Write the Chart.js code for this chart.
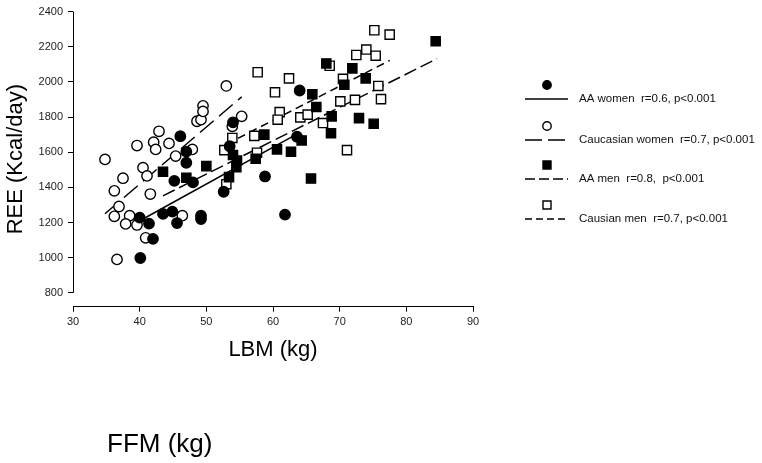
<!DOCTYPE html>
<html>
<head>
<meta charset="utf-8">
<script src="https://cdn.jsdelivr.net/npm/chart.js@4"></script>
<style>
  html, body { margin: 0; padding: 0; background: #fff; }
</style>
</head>
<body>
<canvas id="report" width="762" height="463"></canvas>
<script>
// tick labels
const xTicks = [30, 40, 50, 60, 70, 80, 90];
const yTicks = [800, 1000, 1200, 1400, 1600, 1800, 2000, 2200, 2400];

// AA women (filled circles)
const aaWomenLbm = [46.1, 47.0, 47.0, 45.2, 48.0, 40.0, 43.5, 44.9, 41.4, 45.6, 49.2, 49.2, 42.0, 40.1, 52.6, 53.5, 54.0, 58.8, 61.8, 63.6, 64.0];
const aaWomenRee = [1691, 1603, 1540, 1437, 1428, 1228, 1249, 1262, 1194, 1197, 1239, 1220, 1107, 998, 1375, 1634, 1770, 1462, 1245, 1688, 1951];

// Caucasian women (open circles)
const cauWomenLbm = [34.8, 37.5, 36.2, 40.5, 41.1, 41.6, 36.9, 36.2, 38.5, 37.9, 39.6, 40.9, 36.6, 39.6, 42.1, 42.4, 42.9, 44.4, 45.4, 47.9, 48.6, 49.2, 46.4, 53.0, 49.5, 49.5, 55.3, 53.9];
const cauWomenRee = [1559, 1452, 1380, 1512, 1465, 1362, 1291, 1235, 1239, 1192, 1186, 1113, 990, 1638, 1657, 1616, 1719, 1650, 1578, 1616, 1776, 1785, 1239, 1977, 1864, 1832, 1804, 1747];

// AA men (filled squares)
const aaMenLbm = [43.5, 47.0, 50.0, 54.0, 54.6, 54.5, 53.4, 57.4, 58.7, 60.6, 62.7, 64.3, 65.7, 65.9, 66.5, 68.8, 68.7, 68.0, 71.9, 73.9, 70.7, 72.9, 75.1, 84.4];
const aaMenRee = [1489, 1455, 1521, 1584, 1552, 1514, 1458, 1563, 1700, 1616, 1603, 1667, 1450, 1930, 1857, 1804, 1708, 2105, 2077, 2020, 1984, 1794, 1762, 2231];

// Caucasian men (open squares)
const cauMenLbm = [75.2, 77.5, 74.0, 72.5, 75.4, 68.5, 57.7, 62.4, 70.5, 60.3, 61.0, 60.7, 64.1, 65.2, 67.5, 70.1, 72.3, 75.8, 76.2, 57.2, 57.6, 71.1, 53.9, 52.7, 53.0];
const cauMenRee = [2294, 2269, 2184, 2153, 2149, 2092, 2055, 2020, 2017, 1941, 1828, 1785, 1798, 1814, 1766, 1889, 1898, 1977, 1902, 1693, 1597, 1612, 1681, 1612, 1418];

// regression lines (end points)
const aaWomenFitLbm = [40.5, 63.3];
const aaWomenFitRee = [1220, 1697];
const cauWomenFitLbm = [34.8, 55.3];
const cauWomenFitRee = [1250, 1915];
const aaMenFitLbm = [43.5, 84.6];
const aaMenFitRee = [1352, 2132];
const cauMenFitLbm = [53.0, 77.5];
const cauMenFitRee = [1645, 2122];

const legendLabels = [
    'AA women  r=0.6, p<0.001',
    'Caucasian women  r=0.7, p<0.001',
    'AA men  r=0.8,  p<0.001',
    'Causian men  r=0.7, p<0.001'
];

function toPoints(xs, ys) {
    return xs.map((x, i) => ({ x: x, y: ys[i] }));
}

const FONT = "'Liberation Sans', Arial, sans-serif";
Chart.defaults.font.family = FONT;
Chart.defaults.color = '#222';

const legendItems = [
    { label: legendLabels[0], style: 'circle', fill: true, dash: [] },
    { label: legendLabels[1], style: 'circle', fill: false, dash: [17, 6] },
    { label: legendLabels[2], style: 'rect', fill: true, dash: [10, 4] },
    { label: legendLabels[3], style: 'rect', fill: false, dash: [7, 4] }
];

const extras = {
    id: 'extras',
    afterDraw(chart) {
        const ctx = chart.ctx;
        const xs = chart.scales.x;
        const ys = chart.scales.y;
        ctx.save();

        // y axis line only spans the labelled range
        ctx.strokeStyle = '#000';
        ctx.lineWidth = 1;
        ctx.beginPath();
        ctx.moveTo(xs.left + 0.5, ys.getPixelForValue(yTicks[yTicks.length - 1]));
        ctx.lineTo(xs.left + 0.5, ys.getPixelForValue(yTicks[0]));
        ctx.stroke();

        // legend
        const rows = [99, 140, 179, 219];
        legendItems.forEach((item, i) => {
            const ry = rows[i];
            ctx.setLineDash(item.dash);
            ctx.lineWidth = 1.5;
            ctx.beginPath();
            ctx.moveTo(525, ry);
            ctx.lineTo(568, ry);
            ctx.stroke();
            ctx.setLineDash([]);

            const my = ry - 14;
            ctx.beginPath();
            if (item.style === 'circle') {
                ctx.arc(547, my, 4.2, 0, Math.PI * 2);
            } else {
                ctx.rect(543, my - 4, 8, 8);
            }
            ctx.fillStyle = item.fill ? '#000' : '#fff';
            ctx.fill();
            ctx.lineWidth = 1.4;
            ctx.stroke();

            ctx.fillStyle = '#111';
            ctx.font = '11.5px ' + FONT;
            ctx.textBaseline = 'middle';
            ctx.textAlign = 'left';
            ctx.fillText(item.label, 579, ry);
        });

        // second axis caption under the plot
        ctx.fillStyle = '#000';
        ctx.font = '26px ' + FONT;
        ctx.textBaseline = 'alphabetic';
        ctx.fillText('FFM (kg)', 107, 452);
        ctx.restore();
    }
};

function pointSet(xs, ys, style, fill) {
    return {
        data: toPoints(xs, ys),
        showLine: false,
        pointStyle: style,
        pointRadius: style === 'rect' ? 6.5 : 5.2,
        pointHoverRadius: style === 'rect' ? 6.5 : 5.2,
        pointBackgroundColor: fill ? '#000' : '#fff',
        pointBorderColor: '#000',
        pointBorderWidth: 1.4
    };
}

function fitLine(xs, ys, dash) {
    return {
        type: 'line',
        data: toPoints(xs, ys),
        borderColor: '#000',
        borderWidth: 1.5,
        borderDash: dash,
        pointRadius: 0,
        fill: false
    };
}

const ctx = document.getElementById('report').getContext('2d');
const myChart = new Chart(ctx, {
    type: 'scatter',
    data: {
        datasets: [
            pointSet(aaWomenLbm, aaWomenRee, 'circle', true),
            pointSet(cauWomenLbm, cauWomenRee, 'circle', false),
            pointSet(aaMenLbm, aaMenRee, 'rect', true),
            pointSet(cauMenLbm, cauMenRee, 'rect', false),
            fitLine(aaWomenFitLbm, aaWomenFitRee, []),
            fitLine(cauWomenFitLbm, cauWomenFitRee, [18, 7]),
            fitLine(aaMenFitLbm, aaMenFitRee, [13, 5]),
            fitLine(cauMenFitLbm, cauMenFitRee, [8, 5])
        ]
    },
    options: {
        responsive: false,
        animation: false,
        devicePixelRatio: 1,
        layout: {
            padding: { left: 0, top: 9.5, right: 289, bottom: 93 }
        },
        plugins: {
            legend: { display: false },
            tooltip: { enabled: false }
        },
        scales: {
            x: {
                type: 'linear',
                min: xTicks[0],
                max: xTicks[xTicks.length - 1],
                afterBuildTicks: scale => { scale.ticks = xTicks.map(v => ({ value: v })); },
                afterFit: scale => { scale.height = 63.3; },
                grid: { drawOnChartArea: false, color: '#000', tickLength: 5 },
                border: { display: true, color: '#000', width: 1 },
                ticks: { padding: 4, font: { size: 11 }, color: '#222', callback: v => String(v) },
                title: {
                    display: true,
                    text: 'LBM (kg)',
                    font: { size: 22 },
                    color: '#000',
                    padding: { top: 0, bottom: 7 }
                }
            },
            y: {
                type: 'linear',
                min: 721,
                max: yTicks[yTicks.length - 1],
                afterBuildTicks: scale => { scale.ticks = yTicks.map(v => ({ value: v })); },
                afterFit: scale => { scale.width = 73; },
                grid: { drawOnChartArea: false, color: '#000', tickLength: 5 },
                border: { display: false },
                ticks: { padding: 5, font: { size: 11 }, color: '#222', callback: v => String(v) },
                title: {
                    display: true,
                    text: 'REE (Kcal/day)',
                    font: { size: 22 },
                    color: '#000',
                    padding: { top: 3, bottom: 0 }
                }
            }
        }
    },
    plugins: [extras]
});
</script>
</body>
</html>
